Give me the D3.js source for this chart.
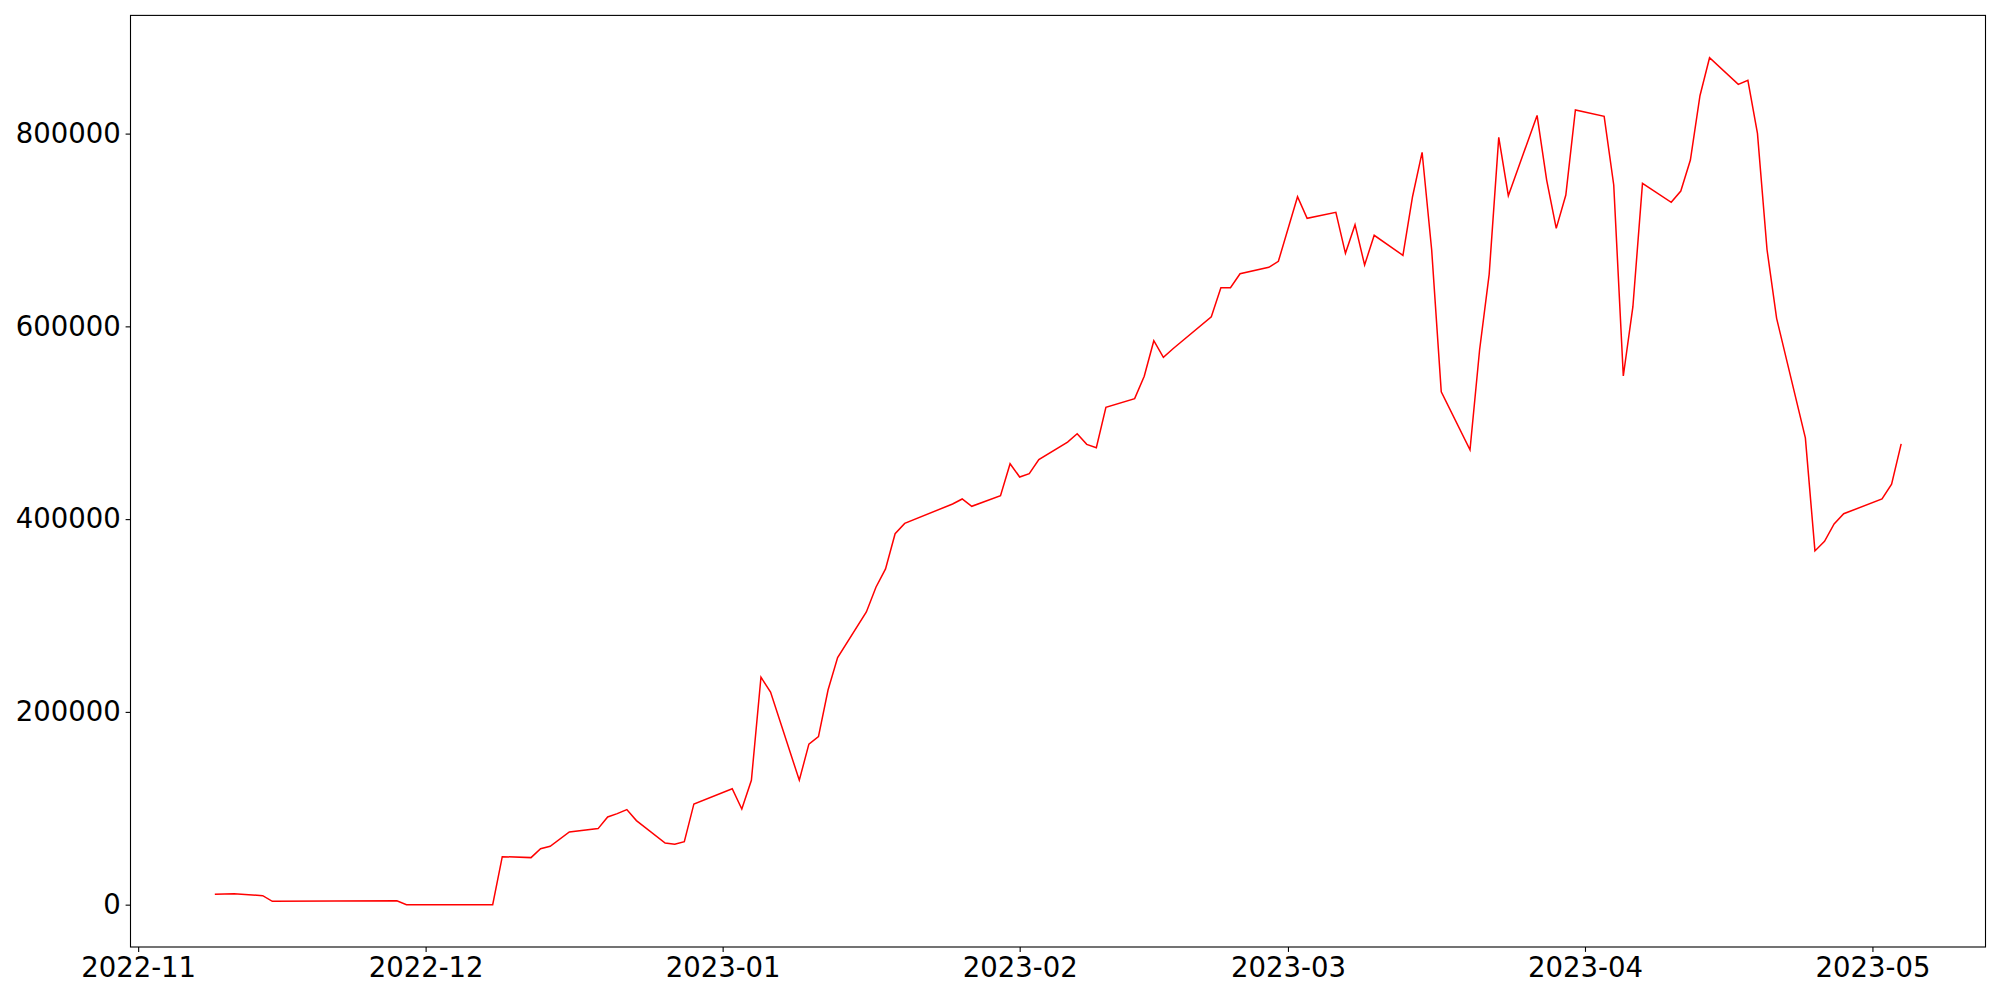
<!DOCTYPE html>
<html>
<head>
  <meta charset="utf-8">
  <title>Daily values</title>
  <script src="https://d3js.org/d3.v7.min.js"></script>
  <style>
    body { margin: 0; background: #fff; }
    .tick text { font-family: "DejaVu Sans", sans-serif; }
  </style>
</head>
<body>
<div id="my_dataviz"></div>
<script>

// dates (weekdays only) and values
var dates = [
  "2022-11-09","2022-11-11","2022-11-14","2022-11-15","2022-11-28","2022-11-29",
  "2022-12-08","2022-12-09","2022-12-12","2022-12-13","2022-12-14","2022-12-16",
  "2022-12-19","2022-12-20","2022-12-21","2022-12-22","2022-12-23","2022-12-26",
  "2022-12-27","2022-12-28","2022-12-29","2023-01-02","2023-01-03","2023-01-04",
  "2023-01-05","2023-01-06","2023-01-09","2023-01-10","2023-01-11","2023-01-12",
  "2023-01-13","2023-01-16","2023-01-17","2023-01-18","2023-01-19","2023-01-20",
  "2023-01-25","2023-01-26","2023-01-27","2023-01-30","2023-01-31","2023-02-01",
  "2023-02-02","2023-02-03","2023-02-06","2023-02-07","2023-02-08","2023-02-09",
  "2023-02-10","2023-02-13","2023-02-14","2023-02-15","2023-02-16","2023-02-17",
  "2023-02-21","2023-02-22","2023-02-23","2023-02-24","2023-02-27","2023-02-28",
  "2023-03-02","2023-03-03","2023-03-06","2023-03-07","2023-03-08","2023-03-09",
  "2023-03-10","2023-03-13","2023-03-14","2023-03-15","2023-03-16","2023-03-17",
  "2023-03-20","2023-03-21","2023-03-22","2023-03-23","2023-03-24","2023-03-27",
  "2023-03-28","2023-03-29","2023-03-30","2023-03-31","2023-04-03","2023-04-04",
  "2023-04-05","2023-04-06","2023-04-07","2023-04-10","2023-04-11","2023-04-12",
  "2023-04-13","2023-04-14","2023-04-17","2023-04-18","2023-04-19","2023-04-20",
  "2023-04-21","2023-04-24","2023-04-25","2023-04-26","2023-04-27","2023-04-28",
  "2023-05-02","2023-05-03","2023-05-04"
];

var values = [
  10800, 11400, 9300, 3500, 4100, 0,
  0, 49800, 48800, 58100, 60600, 75400,
  78900, 91000, 94400, 98600, 87200, 64000,
  62600, 65400, 104500, 120300, 99300, 129100,
  236000, 220500, 129100, 166500, 174300, 222700,
  256300, 303700, 329300, 348300, 384900, 395600,
  415700, 420900, 413300, 424300, 457500, 443700,
  447200, 461700, 480000, 488600, 477600, 474100,
  516000, 525000, 548200, 585100, 567900, 576800,
  610000, 640100, 640100, 654600, 661300, 667500,
  734500, 712100, 718300, 675800, 705500, 663700,
  694500, 673700, 734500, 780600, 679200, 532200,
  472000, 575500, 654000, 796100, 735600, 818900,
  751800, 701700, 736300, 824500, 817900, 746700,
  548500, 620400, 748400, 728700, 740400, 772600,
  839300, 878700, 851100, 855300, 800200, 679500,
  608300, 484300, 367000, 376900, 395000, 405600,
  420900, 436300, 478100
];

var yTicks = [0, 200000, 400000, 600000, 800000];

// set the dimensions and margins of the graph
var margin = {top: 15.4, right: 14.5, bottom: 53, left: 130.5},
    width = 2000 - margin.left - margin.right,
    height = 1000 - margin.top - margin.bottom;

var parseDate = d3.timeParse("%Y-%m-%d");
var data = dates.map(function(d, i) { return {date: parseDate(d), value: values[i]}; });

var svg = d3.select("#my_dataviz")
  .append("svg")
    .attr("width", 2000)
    .attr("height", 1000)
  .append("g")
    .attr("transform", "translate(" + margin.left + "," + margin.top + ")");

// matplotlib style 5% padding on both axes
var xExt = d3.extent(data, function(d) { return d.date; });
var xPad = (xExt[1] - xExt[0]) * 0.05;
var x = d3.scaleTime()
  .domain([new Date(+xExt[0] - xPad), new Date(+xExt[1] + xPad)])
  .range([0, width]);

var yExt = d3.extent(values);
var yPad = (yExt[1] - yExt[0]) * 0.05;
var y = d3.scaleLinear()
  .domain([yExt[0] - yPad, yExt[1] + yPad])
  .range([height, 0]);

var tickLen = 4.9, fontSize = "27.5px";

// X axis, one tick per month
svg.append("g")
  .attr("transform", "translate(0," + height + ")")
  .call(d3.axisBottom(x)
    .ticks(d3.timeMonth.every(1))
    .tickFormat(d3.timeFormat("%Y-%m"))
    .tickSize(tickLen)
    .tickPadding(tickLen + 1))
  .call(function(g) { g.select(".domain").remove(); })
  .selectAll("text").style("font-size", fontSize).attr("fill", "#000");

// Y axis
svg.append("g")
  .call(d3.axisLeft(y)
    .tickValues(yTicks)
    .tickFormat(d3.format("d"))
    .tickSize(tickLen)
    .tickPadding(tickLen))
  .call(function(g) { g.select(".domain").remove(); })
  .selectAll("text").style("font-size", fontSize).attr("fill", "#000");

svg.selectAll(".tick line").attr("stroke", "#000").attr("stroke-width", 1.1);

// the line
svg.append("path")
  .datum(data)
  .attr("fill", "none")
  .attr("stroke", "#ff0000")
  .attr("stroke-width", 1.5)
  .attr("stroke-linejoin", "miter")
  .attr("d", d3.line()
    .x(function(d) { return x(d.date); })
    .y(function(d) { return y(d.value); }));

// frame
svg.append("rect")
  .attr("width", width)
  .attr("height", height)
  .attr("fill", "none")
  .attr("stroke", "#000")
  .attr("stroke-width", 1.1);

</script>
</body>
</html>
